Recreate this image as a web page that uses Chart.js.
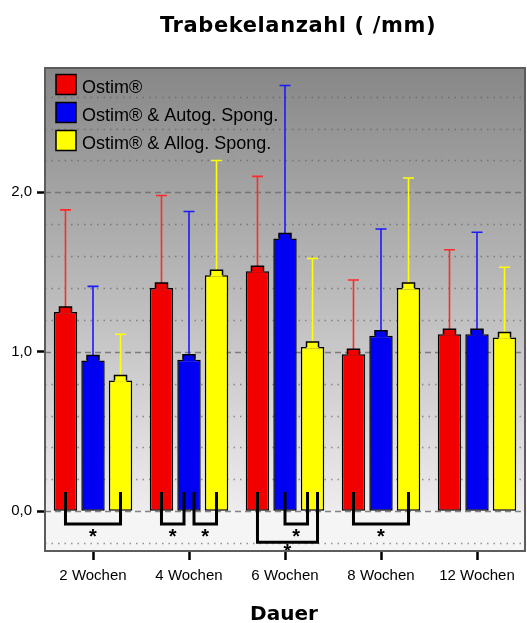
<!DOCTYPE html>
<html>
<head>
<meta charset="utf-8">
<script src="https://cdn.jsdelivr.net/npm/chart.js@4.4.0/dist/chart.umd.min.js"></script>
<style>
  html, body { margin: 0; padding: 0; background: #ffffff; }
  canvas { display: block; }
</style>
</head>
<body>
<canvas id="chart" width="527" height="623"></canvas>
<script>
// Trabecular number per group and healing time
const categories = ['2 Wochen', '4 Wochen', '6 Wochen', '8 Wochen', '12 Wochen'];
const seriesNames = ['Ostim®', 'Ostim® & Autog. Spong.', 'Ostim® & Allog. Spong.'];

const ostimMean  = [1.25, 1.40, 1.505, 0.985, 1.11];
const ostimUpper = [1.89, 1.98, 2.10, 1.45, 1.64];
const autogMean  = [0.945, 0.95, 1.71, 1.10, 1.11];
const autogUpper = [1.41, 1.88, 2.67, 1.77, 1.75];
const allogMean  = [0.82, 1.48, 1.03, 1.40, 1.09];
const allogUpper = [1.11, 2.20, 1.585, 2.09, 1.53];

const yTickValues = [-0.2, 0, 0.2, 0.4, 0.6, 0.8, 1, 1.2, 1.4, 1.6, 1.8, 2, 2.2, 2.4, 2.6];

// Significant pairwise differences: [category, series A, series B, nesting level]
const sigCategory = [0, 1, 1, 2, 2, 3];
const sigFrom     = [0, 0, 1, 1, 0, 0];
const sigTo       = [2, 1, 2, 2, 2, 2];
const sigLevel    = [0, 0, 0, 0, 1, 0];

const fillColors  = ['#f20000', '#0000f2', '#ffff00'];
const whiskerCols = ['#ff2a2a', '#1a1aff', '#ffff00'];

const means  = [ostimMean, autogMean, allogMean];
const uppers = [ostimUpper, autogUpper, allogUpper];

const isMajor = v => Math.abs(v - Math.round(v)) < 1e-6;

const decorPlugin = {
  id: 'decor',
  beforeDraw(chart) {
    const { ctx, chartArea: a, scales: { y } } = chart;
    const zeroY = y.getPixelForValue(0);
    ctx.save();
    const g = ctx.createLinearGradient(0, a.top, 0, zeroY);
    g.addColorStop(0, '#878787');
    g.addColorStop(1, '#ededed');
    ctx.fillStyle = g;
    ctx.fillRect(a.left, a.top, a.right - a.left, zeroY - a.top);
    ctx.fillStyle = '#f5f5f5';
    ctx.fillRect(a.left, zeroY, a.right - a.left, a.bottom - zeroY);
    ctx.restore();
  },
  beforeDatasetsDraw(chart) {
    const { ctx, chartArea: a, scales: { y } } = chart;
    ctx.save();
    yTickValues.forEach(v => {
      const py = Math.round(y.getPixelForValue(v)) + 0.5;
      ctx.beginPath();
      if (isMajor(v)) {
        ctx.setLineDash([6, 4]);
        ctx.strokeStyle = 'rgba(110,110,110,0.85)';
        ctx.lineWidth = 1.5;
      } else {
        ctx.setLineDash([1.5, 5]);
        ctx.strokeStyle = 'rgba(95,95,95,0.65)';
        ctx.lineWidth = 1.5;
      }
      ctx.moveTo(a.left, py);
      ctx.lineTo(a.right, py);
      ctx.stroke();
    });
    ctx.restore();
  },
  afterDatasetsDraw(chart) {
    const { ctx, chartArea: a, scales: { y } } = chart;
    ctx.save();

    // bar caps and whiskers
    chart.data.datasets.forEach((ds, si) => {
      const meta = chart.getDatasetMeta(si);
      meta.data.forEach((bar, ci) => {
        const cx = bar.x;
        const top = bar.y;
        const capW = 6;
        const capH = 5;
        const upY = y.getPixelForValue(uppers[si][ci]);
        ctx.strokeStyle = whiskerCols[si];
        ctx.lineWidth = 1.6;
        ctx.setLineDash([]);
        ctx.beginPath();
        ctx.moveTo(cx, top - capH);
        ctx.lineTo(cx, upY);
        ctx.moveTo(cx - 5.5, upY);
        ctx.lineTo(cx + 5.5, upY);
        ctx.stroke();
        // raised block on the bar top
        ctx.fillStyle = fillColors[si];
        ctx.fillRect(cx - capW, top - capH, capW * 2, capH + 1.5);
        ctx.strokeStyle = '#000';
        ctx.lineWidth = 1.5;
        ctx.beginPath();
        ctx.moveTo(cx - capW, top);
        ctx.lineTo(cx - capW, top - capH);
        ctx.lineTo(cx + capW, top - capH);
        ctx.lineTo(cx + capW, top);
        ctx.stroke();
      });
    });

    // significance brackets
    const usage = {};
    sigCategory.forEach((c, i) => {
      [sigFrom[i], sigTo[i]].forEach(s => {
        const k = c + '_' + s;
        usage[k] = (usage[k] || 0) + 1;
      });
    });
    const barX = (c, s) => chart.getDatasetMeta(s).data[c].x;
    const topY = y.getPixelForValue(0.12);
    const levelBottom = [-0.08, -0.195];
    const levelStar = [-0.14, -0.23];
    ctx.font = 'bold 20px "Liberation Sans", Arial, sans-serif';
    const sm = ctx.measureText('*');
    sigCategory.forEach((c, i) => {
      const ends = [sigFrom[i], sigTo[i]];
      const xs = ends.map((s, j) => {
        const other = ends[1 - j];
        let x = barX(c, s);
        if (usage[c + '_' + s] > 1) {
          const dir = Math.sign(barX(c, other) - x);
          x += 5 * (sigLevel[i] === 0 ? dir : -dir);
        }
        return x;
      });
      const by = y.getPixelForValue(levelBottom[sigLevel[i]]);
      ctx.strokeStyle = '#000';
      ctx.lineWidth = 3;
      ctx.lineJoin = 'miter';
      ctx.beginPath();
      ctx.moveTo(xs[0], topY);
      ctx.lineTo(xs[0], by);
      ctx.lineTo(xs[1], by);
      ctx.lineTo(xs[1], topY);
      ctx.stroke();
      const sy = y.getPixelForValue(levelStar[sigLevel[i]]);
      ctx.fillStyle = '#000';
      ctx.textAlign = 'center';
      ctx.textBaseline = 'alphabetic';
      ctx.fillText('*', (xs[0] + xs[1]) / 2, sy + (sm.actualBoundingBoxAscent - sm.actualBoundingBoxDescent) / 2);
    });

    // plot frame
    ctx.strokeStyle = '#5c5c5c';
    ctx.lineWidth = 2;
    ctx.strokeRect(a.left, a.top, a.right - a.left, a.bottom - a.top);

    // legend inside the plot
    ctx.font = '18px "Liberation Sans", Arial, sans-serif';
    ctx.textAlign = 'left';
    ctx.textBaseline = 'alphabetic';
    chart.data.datasets.forEach((ds, i) => {
      const bx = a.left + 11;
      const by0 = a.top + 6.5 + i * 28;
      ctx.fillStyle = ds.backgroundColor;
      ctx.fillRect(bx, by0, 20, 20);
      ctx.strokeStyle = '#000';
      ctx.lineWidth = 1.5;
      ctx.strokeRect(bx, by0, 20, 20);
      ctx.fillStyle = '#000';
      ctx.fillText(ds.label, bx + 26, by0 + 18);
    });

    // titles
    ctx.textAlign = 'center';
    ctx.fillStyle = '#000';
    ctx.font = 'bold 21px "DejaVu Sans", sans-serif';
    ctx.letterSpacing = '0.6px';
    ctx.fillText('Trabekelanzahl ( /mm)', 298, 32);
    ctx.letterSpacing = '0px';
    ctx.font = 'bold 20px "DejaVu Sans", sans-serif';
    ctx.fillText('Dauer', 284, 620);
    ctx.restore();
  }
};

new Chart(document.getElementById('chart'), {
  type: 'bar',
  data: {
    labels: categories,
    datasets: means.map((m, i) => ({
      label: seriesNames[i],
      data: m,
      backgroundColor: fillColors[i],
      borderColor: '#000000',
      borderWidth: 1.5,
      borderSkipped: false,
      categoryPercentage: 0.86,
      barPercentage: 0.85
    }))
  },
  options: {
    responsive: false,
    animation: false,
    devicePixelRatio: 1,
    layout: { padding: { top: 68, right: 2, left: 0, bottom: 0 } },
    plugins: { legend: { display: false }, title: { display: false }, tooltip: { enabled: false } },
    scales: {
      x: {
        afterFit(scale) { scale.height = 72; },
        border: { display: false },
        grid: { offset: false, drawOnChartArea: false, drawTicks: true, tickLength: 9, tickColor: '#000', tickWidth: 2.5 },
        ticks: { color: '#000', padding: 7, font: { family: '"Liberation Sans", Arial, sans-serif', size: 15 } }
      },
      y: {
        min: -0.25,
        max: 2.78,
        afterFit(scale) { scale.width = 45; },
        afterBuildTicks(scale) { scale.ticks = yTickValues.map(v => ({ value: v })); },
        border: { display: false },
        grid: {
          drawOnChartArea: false,
          drawTicks: true,
          tickLength: 8,
          tickWidth: 2.5,
          tickColor: c => (c.tick && isMajor(c.tick.value)) ? '#000' : 'rgba(0,0,0,0)'
        },
        ticks: {
          autoSkip: false,
          padding: 5,
          color: '#000',
          font: { family: '"Liberation Sans", Arial, sans-serif', size: 15 },
          callback: v => isMajor(v) ? v.toFixed(1).replace('.', ',') : ''
        }
      }
    }
  },
  plugins: [decorPlugin]
});
</script>
</body>
</html>
